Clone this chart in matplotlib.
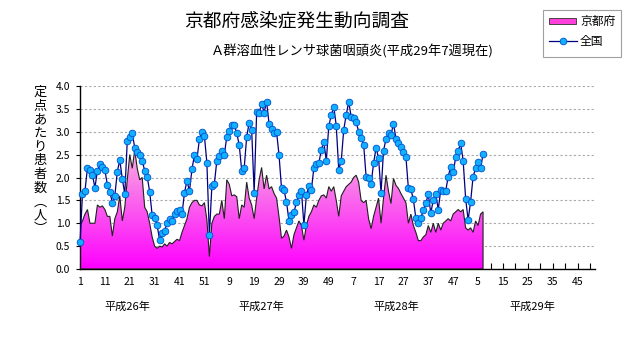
import numpy as np
import matplotlib
matplotlib.use('Agg')
import matplotlib.pyplot as plt
from matplotlib.colors import LinearSegmentedColormap
from matplotlib.patches import Polygon, Rectangle
from matplotlib.lines import Line2D

plt.rcParams['font.family'] = ['Noto Sans CJK JP', 'DejaVu Sans']

# 京都府 (定点あたり患者数), 平成26年第1週 - 平成29年第7週
kyoto = [0.95, 1.05, 1.2, 1.3, 1.0, 1.0, 1.0, 1.4, 1.35, 1.38,
         1.3, 1.15, 1.15, 0.72, 1.1, 1.25, 1.6, 1.05, 1.35, 1.95,
         2.5, 2.2, 2.6, 2.2, 1.95, 2.0, 1.35, 1.25, 1.0, 0.7,
         0.5, 0.45, 0.5, 0.48, 0.55, 0.5, 0.58, 0.55, 0.6, 0.65,
         0.62, 0.8, 0.95, 1.1, 1.35, 1.45, 1.5, 1.5, 1.4, 1.38,
         1.45, 1.08, 0.27, 1.0, 1.15, 1.2, 1.2, 1.5, 1.1, 1.95,
         1.85, 1.6, 1.62, 1.58, 1.1, 1.4, 1.35, 1.9, 1.55, 1.4,
         1.1, 1.55, 1.95, 2.22, 1.75, 2.05, 1.75, 1.8, 1.65, 1.55,
         1.14, 0.67, 0.72, 0.85, 0.7, 0.45, 0.75, 0.9, 1.05, 0.95,
         0.63, 0.95, 1.15, 1.25, 1.4, 1.35, 1.5, 1.6, 1.62, 1.55,
         1.8, 1.7, 1.8, 1.5, 1.15, 1.6, 1.7, 1.8, 1.85, 1.9,
         2.0, 2.05, 1.9, 1.5, 1.45, 1.5, 1.1, 0.88, 1.15, 1.35,
         1.55, 1.0, 1.55, 2.05, 1.7, 1.43, 1.98, 1.83, 1.76, 1.65,
         1.55, 1.45, 1.0, 1.2, 0.95, 0.8, 0.62, 0.62, 0.7, 0.75,
         0.95, 0.8, 1.0, 0.8, 1.0, 0.85, 1.0, 1.05, 1.1, 1.05,
         1.2, 1.25, 1.3, 1.25, 1.3, 0.9, 0.85, 0.9, 0.8, 1.05,
         0.95, 1.2, 1.25]

# 全国
zenkoku = [0.58, 1.64, 1.71, 2.21, 2.16, 2.05, 1.78, 2.15, 2.30, 2.22,
           2.16, 1.84, 1.69, 1.45, 1.60, 2.13, 2.38, 1.97, 1.64, 2.80,
           2.88, 2.97, 2.65, 2.56, 2.49, 2.37, 2.15, 2.02, 1.69, 1.18,
           1.11, 0.96, 0.63, 0.78, 0.84, 1.00, 1.09, 1.05, 1.20, 1.27,
           1.28, 1.20, 1.67, 1.93, 1.70, 2.18, 2.49, 2.40, 2.84, 3.00,
           2.91, 2.32, 0.74, 1.81, 1.86, 2.37, 2.46, 2.58, 2.50, 2.89,
           3.02, 3.14, 3.14, 2.97, 2.71, 2.15, 2.21, 2.89, 3.20, 3.04,
           1.67, 3.43, 3.42, 3.61, 3.42, 3.66, 3.17, 3.05, 2.98, 3.00,
           2.49, 1.76, 1.73, 1.46, 1.06, 1.17, 1.24, 1.46, 1.61, 1.71,
           0.96, 1.62, 1.81, 1.73, 2.21, 2.30, 2.31, 2.61, 2.78, 2.36,
           3.13, 3.36, 3.55, 3.13, 2.17, 2.36, 3.04, 3.37, 3.65, 3.33,
           3.29, 3.21, 3.00, 2.86, 2.72, 2.02, 2.00, 1.86, 2.31, 2.65,
           2.43, 1.67, 2.59, 2.84, 2.97, 2.93, 3.18, 2.85, 2.75, 2.67,
           2.56, 2.45, 1.76, 1.74, 1.52, 1.11, 1.00, 1.12, 1.28, 1.44,
           1.63, 1.22, 1.51, 1.63, 1.30, 1.73, 1.71, 1.71, 2.02, 2.24,
           2.11, 2.44, 2.58, 2.75, 2.37, 1.54, 1.07, 1.47, 2.02, 2.20,
           2.33, 2.20, 2.51]

week_labels = [1, 11, 21, 31, 41, 51, 9, 19, 29, 39, 49,
               7, 17, 27, 37, 47, 5, 15, 25, 35, 45]
years = ['平成26年', '平成27年', '平成28年', '平成29年']
year_pos = [20, 74, 128, 183]

weeks = np.arange(1, len(kyoto) + 1)

W, H = 631, 347
fig = plt.figure(figsize=(W / 100, H / 100), dpi=100)
ax = fig.add_axes([80 / W, 1 - 269 / H, 515 / W, 183 / H])

# pink gradient area
verts = [(weeks[0], 0)] + list(zip(weeks, kyoto)) + [(weeks[-1], 0)]
area = Polygon(verts, closed=True, facecolor='none', edgecolor='#202020',
               lw=0.8, zorder=3)
ax.add_patch(area)
cmap = LinearSegmentedColormap.from_list('pk', ['#ff00ff', '#f7b0e0'])
grad = np.linspace(0, 1, 256).reshape(-1, 1)
im = ax.imshow(grad, extent=[weeks[0], weeks[-1], 0, max(kyoto)],
               origin='lower', aspect='auto', cmap=cmap, zorder=2,
               interpolation='bilinear')
im.set_clip_path(area)

# national line
ax.plot(weeks, zenkoku, color='#000080', lw=0.9, marker='o', ms=4.8,
        mfc='#10b0ff', mec='#0050d0', mew=0.6, zorder=4, clip_on=False)

ax.set_xlim(1, 208)
ax.set_ylim(0, 4)
ax.set_yticks(np.arange(0, 4.01, 0.5))
ax.set_yticklabels(['%.1f' % v for v in np.arange(0, 4.01, 0.5)], fontsize=7.5)
ax.set_xticks(np.arange(1, 1 + 10 * len(week_labels), 10))
ax.set_xticklabels([str(v) for v in week_labels], fontsize=7.5)
ax.set_xticks(np.arange(6, 208, 10), minor=True)
ax.tick_params(axis='x', which='both', direction='in', length=4, width=0.8, pad=6)
ax.tick_params(axis='y', direction='out', length=3, width=0.8, pad=4)
ax.yaxis.grid(True, linestyle=(0, (2, 2)), color='#a8a8a8', lw=0.8)
ax.set_axisbelow(True)
for s in ['top', 'right']:
    ax.spines[s].set_visible(False)
for s in ['left', 'bottom']:
    ax.spines[s].set_linewidth(1.0)
ax.set_facecolor('white')

for yl, xp in zip(years, year_pos):
    ax.text(xp, -0.82, yl, ha='center', va='center', fontsize=8)

# titles
fig.text(297 / W, 1 - 21 / H, '京都府感染症発生動向調査', ha='center',
         va='center', fontsize=13.5)
fig.text(352 / W, 1 - 51 / H, 'Ａ群溶血性レンサ球菌咽頭炎(平成29年7週現在)',
         ha='center', va='center', fontsize=9.5)

# vertical y label
ylab = '\n'.join(list('定点あたり患者数') + ['︵', '人', '︶'])
fig.text(40 / W, 1 - 161 / H, ylab, ha='center', va='center', fontsize=9.5,
         linespacing=1.08)

# legend
fig.add_artist(Rectangle((543 / W, 1 - 57 / H), 78 / W, 47 / H,
                         transform=fig.transFigure, fill=False,
                         edgecolor='#a0a0a0', lw=0.8))
fig.add_artist(Rectangle((549 / W, 1 - 24 / H), 27 / W, 6 / H,
                         transform=fig.transFigure, facecolor='#ff40dd',
                         edgecolor='#303030', lw=0.6))
fig.text(580 / W, 1 - 21 / H, '京都府', ha='left', va='center', fontsize=8.5)
fig.add_artist(Line2D([549 / W, 562.5 / W, 577 / W], [1 - 41 / H] * 3,
                      transform=fig.transFigure, color='#000080', lw=0.9,
                      marker='o', markevery=[1], ms=4.8, mfc='#10b0ff',
                      mec='#0050d0', mew=0.6))
fig.text(580 / W, 1 - 41 / H, '全国', ha='left', va='center', fontsize=8.5)

fig.savefig('out.png', dpi=100)
